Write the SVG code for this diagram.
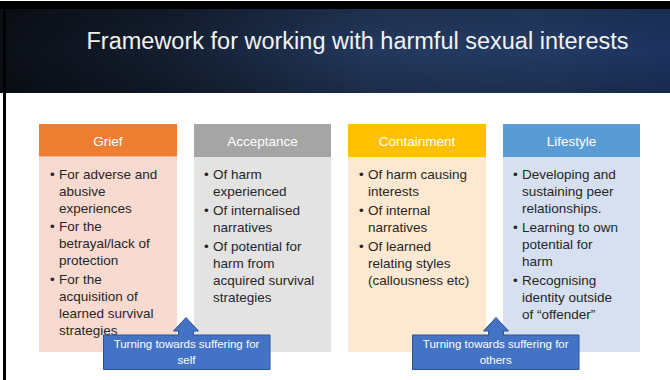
<svg xmlns="http://www.w3.org/2000/svg" width="670" height="380" viewBox="0 0 670 380">
<defs>
<linearGradient id="hdr" x1="0" y1="0" x2="1" y2="0">
<stop offset="0" stop-color="#0b0f17"/>
<stop offset="0.25" stop-color="#141e30"/>
<stop offset="0.55" stop-color="#23385c"/>
<stop offset="0.8" stop-color="#233b63"/>
<stop offset="1" stop-color="#1d3360"/>
</linearGradient>
<linearGradient id="hdrv" x1="0" y1="0" x2="0" y2="1">
<stop offset="0" stop-color="#000" stop-opacity="0.15"/>
<stop offset="0.5" stop-color="#000" stop-opacity="0"/>
<stop offset="1" stop-color="#000" stop-opacity="0.2"/>
</linearGradient>
<style>
.title{font-family:"Liberation Sans",Arial,sans-serif;font-size:23.5px;fill:#f2f2f2;text-anchor:middle}
.head{font-family:"Liberation Sans",Arial,sans-serif;font-size:13.5px;fill:#ffffff;text-anchor:middle}
.body{font-family:"Liberation Sans",Arial,sans-serif;font-size:13.5px;fill:#262626}
.call{font-family:"Liberation Sans",Arial,sans-serif;font-size:11.5px;fill:#ffffff;text-anchor:middle}
.callout{fill:#4472c4;stroke:#2f528f;stroke-width:1}
</style>
</defs>
<rect x="0" y="0" width="670" height="380" fill="#ffffff"/>
<g id="header">
<rect x="0" y="8" width="670" height="85" fill="url(#hdr)"/>
<rect x="0" y="8" width="670" height="85" fill="url(#hdrv)"/>
<rect x="0" y="1" width="670" height="8" fill="#000000"/>
<rect x="3" y="1" width="3" height="379" fill="#000000"/>
<text class="title" x="357.5" y="49">Framework for working with harmful sexual interests</text>
</g>

<g id="grief">
<rect x="39" y="157" width="138" height="195" fill="#f9dad0"/>
<rect x="39" y="124" width="138" height="33" fill="#ed7d31"/>
<line x1="39" y1="157" x2="177" y2="157" stroke="#fbe3d8" stroke-width="1"/>
<text class="head" x="108" y="146">Grief</text>
<g class="body">
<text x="50" y="179">•</text><text x="59" y="179">For adverse and</text>
<text x="59" y="196">abusive</text>
<text x="59" y="213">experiences</text>
<text x="50" y="231">•</text><text x="59" y="231">For the</text>
<text x="59" y="248">betrayal/lack of</text>
<text x="59" y="265">protection</text>
<text x="50" y="284">•</text><text x="59" y="284">For the</text>
<text x="59" y="301">acquisition of</text>
<text x="59" y="318">learned survival</text>
<text x="59" y="335">strategies</text>
</g>
</g>

<g id="acceptance">
<rect x="194" y="157" width="137" height="195" fill="#e3e3e3"/>
<rect x="194" y="124" width="137" height="33" fill="#a5a5a5"/>
<text class="head" x="262.5" y="146">Acceptance</text>
<g class="body">
<text x="204" y="179">•</text><text x="213" y="179">Of harm</text>
<text x="213" y="196">experienced</text>
<text x="204" y="215">•</text><text x="213" y="215">Of internalised</text>
<text x="213" y="232">narratives</text>
<text x="204" y="251">•</text><text x="213" y="251">Of potential for</text>
<text x="213" y="268">harm from</text>
<text x="213" y="285">acquired survival</text>
<text x="213" y="302">strategies</text>
</g>
</g>

<g id="containment">
<rect x="348" y="157" width="138" height="195" fill="#fde9d1"/>
<rect x="348" y="124" width="138" height="33" fill="#ffc000"/>
<text class="head" x="417" y="146">Containment</text>
<g class="body">
<text x="359" y="179">•</text><text x="368" y="179">Of harm causing</text>
<text x="368" y="196">interests</text>
<text x="359" y="215">•</text><text x="368" y="215">Of internal</text>
<text x="368" y="232">narratives</text>
<text x="359" y="251">•</text><text x="368" y="251">Of learned</text>
<text x="368" y="268">relating styles</text>
<text x="368" y="285">(callousness etc)</text>
</g>
</g>

<g id="lifestyle">
<rect x="503" y="157" width="137" height="195" fill="#d6e0f0"/>
<rect x="503" y="124" width="137" height="33" fill="#5b9bd5"/>
<text class="head" x="571.5" y="146">Lifestyle</text>
<g class="body">
<text x="513" y="179">•</text><text x="522" y="179">Developing and</text>
<text x="522" y="196">sustaining peer</text>
<text x="522" y="213">relationships.</text>
<text x="513" y="232">•</text><text x="522" y="232">Learning to own</text>
<text x="522" y="249">potential for</text>
<text x="522" y="266">harm</text>
<text x="513" y="285">•</text><text x="522" y="285">Recognising</text>
<text x="522" y="302">identity outside</text>
<text x="522" y="319">of “offender”</text>
</g>
</g>

<g id="connectors">
<g id="callout-self">
<path class="callout" d="M103.5,335 H178.5 V331 H173.5 L186,317.5 L198.5,331 H193.5 V335 H270 V369.5 H103.5 Z"/>
<text class="call" x="186.5" y="347.5">Turning towards suffering for</text>
<text class="call" x="186.5" y="363.5">self</text>
</g>
<g id="callout-others">
<path class="callout" d="M412.5,335 H488.5 V331 H483.5 L496,317.5 L508.5,331 H503.5 V335 H579 V369.5 H412.5 Z"/>
<text class="call" x="495.7" y="347.5">Turning towards suffering for</text>
<text class="call" x="495.7" y="363.5">others</text>
</g>
</g>
</svg>
